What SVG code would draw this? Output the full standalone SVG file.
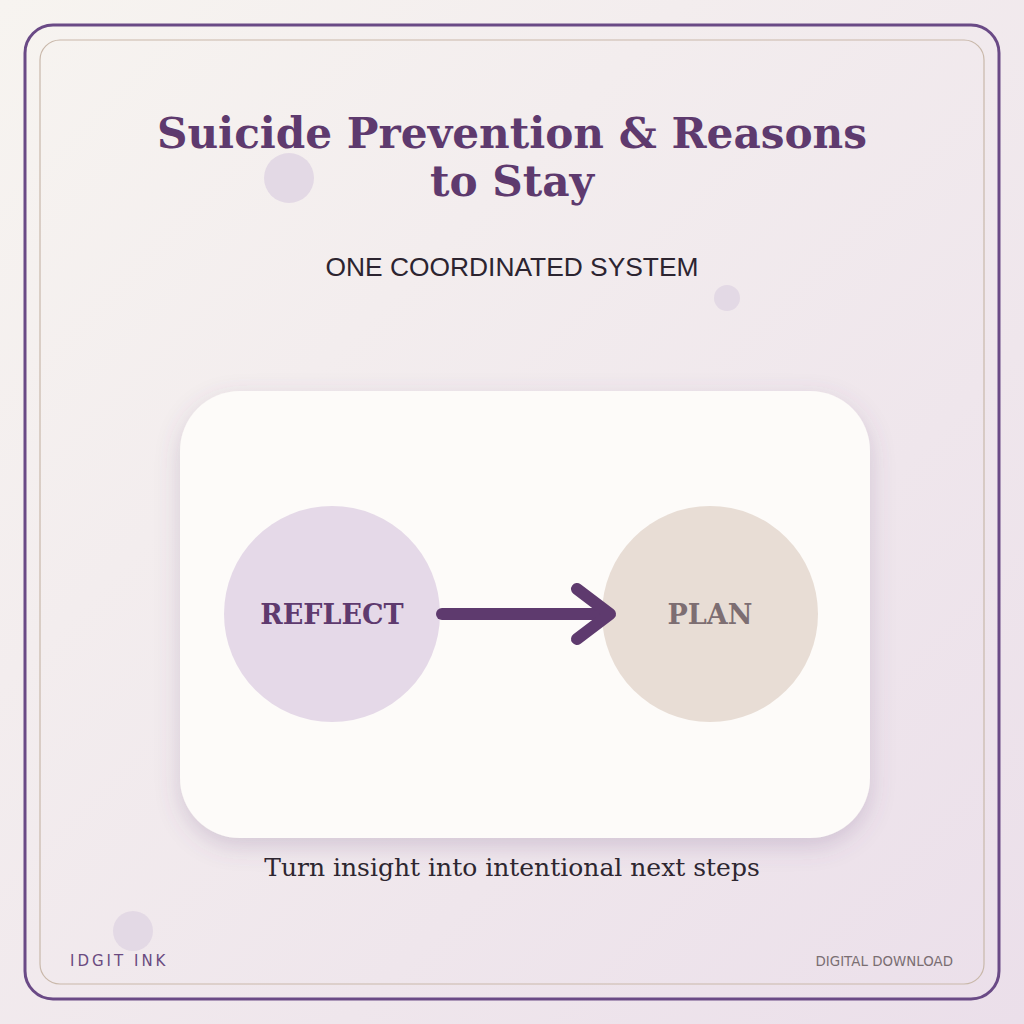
<svg xmlns="http://www.w3.org/2000/svg" width="1024" height="1024" viewBox="0 0 1024 1024">
<defs>
<linearGradient id="bg" x1="0" y1="0" x2="1" y2="1">
<stop offset="0" stop-color="#f7f4f0"/>
<stop offset="1" stop-color="#ebdfea"/>
</linearGradient>
<filter id="shadow" x="-20%" y="-20%" width="140%" height="140%">
<feDropShadow dx="0" dy="8" stdDeviation="12" flood-color="#6a4a80" flood-opacity="0.22"/>
</filter>
<style>
.title{font-family:"DejaVu Serif",serif;font-weight:bold;font-size:42.2px;fill:#5e3a6e;text-anchor:middle}
.sub{font-family:"Liberation Sans",Arial,sans-serif;font-size:26px;fill:#2c2430;text-anchor:middle}
.node{font-family:"DejaVu Serif",serif;font-weight:bold;font-size:27px;text-anchor:middle}
.cap{font-family:"DejaVu Serif",serif;font-size:25px;fill:#2e2630;text-anchor:middle}
.dot{fill:#e3d9e5}
</style>
</defs>
<rect width="1024" height="1024" fill="url(#bg)"/>
<rect x="25" y="25" width="974" height="974" rx="28" fill="none" stroke="#6a4a86" stroke-width="3"/>
<rect x="40" y="40" width="944" height="944" rx="20" fill="none" stroke="#c9b8aa" stroke-width="1.2"/>
<circle class="dot" cx="289" cy="178" r="25"/>
<circle class="dot" cx="727" cy="298" r="13"/>
<circle class="dot" cx="133" cy="931" r="20"/>
<text class="title" x="512" y="148">Suicide Prevention &amp; Reasons</text>
<text class="title" x="512" y="196">to Stay</text>
<text class="sub" x="512" y="276" textLength="373" lengthAdjust="spacingAndGlyphs">ONE COORDINATED SYSTEM</text>
<g id="card">
<rect x="180" y="391" width="690" height="447" rx="60" fill="#fdfbf9" filter="url(#shadow)"/>
</g>
<g id="reflect">
<circle cx="332" cy="614" r="108" fill="#e5d9e8"/>
<text class="node" x="332" y="624" fill="#5e3a6e">REFLECT</text>
</g>
<g id="plan">
<circle cx="710" cy="614" r="108" fill="#e8ddd5"/>
<text class="node" x="710" y="624" fill="#7d6e72">PLAN</text>
</g>
<g id="connectors" fill="none" stroke="#5e3a6e" stroke-width="12" stroke-linecap="round" stroke-linejoin="round">
<line x1="442" y1="614" x2="608" y2="614"/>
<polyline points="577,589 610,614 577,639"/>
</g>
<text class="cap" x="512" y="876">Turn insight into intentional next steps</text>
<text x="70" y="966" font-family="'DejaVu Sans',sans-serif" font-size="15" letter-spacing="3" fill="#6a4a80">IDGIT INK</text>
<text x="953" y="966" font-family="'DejaVu Sans',sans-serif" font-size="13.4" fill="#7a6e72" text-anchor="end">DIGITAL DOWNLOAD</text>
</svg>
